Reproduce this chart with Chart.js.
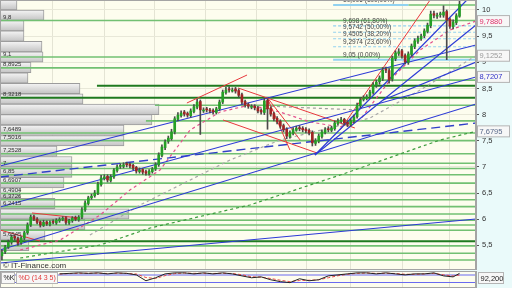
<!DOCTYPE html>
<html>
<head>
<meta charset="utf-8">
<script src="https://cdn.jsdelivr.net/npm/chart.js@4.4.1/dist/chart.umd.min.js"></script>
<style>
  html, body { margin: 0; padding: 0; background: #eaf9f9; }
  #wrap { position: relative; width: 512px; height: 288px; overflow: hidden; }
  #main { position: absolute; left: 0; top: 0; }
  #stoch { position: absolute; left: 0; top: 271px; }
</style>
</head>
<body>
<div id="wrap">
  <canvas id="main" width="512" height="270"></canvas>
  <canvas id="stoch" width="512" height="17"></canvas>
</div>
<script>
// candles, one per session (x = candle index)
const opens = [
  5.30, 5.38, 5.47, 5.56, 5.67, 5.63, 5.55, 5.64, 5.74, 5.89,
  6.05, 6.00, 5.95, 5.88, 5.95, 5.90, 5.96, 5.93, 5.97, 6.00,
  6.03, 5.93, 5.97, 6.03, 5.99, 6.04, 6.18, 6.30, 6.41, 6.45,
  6.50, 6.66, 6.78, 6.82, 6.74, 6.81, 6.93, 7.01, 7.01, 7.06,
  7.05, 7.03, 6.99, 6.91, 6.95, 6.91, 6.87, 6.91, 6.96, 7.04,
  7.22, 7.37, 7.49, 7.54, 7.67, 7.91, 7.98, 8.05, 8.02, 7.98,
  8.06, 8.14, 8.25, 8.07, 8.11, 8.08, 8.08, 8.04, 8.11, 8.24,
  8.42, 8.49, 8.45, 8.49, 8.46, 8.38, 8.25, 8.19, 8.14, 8.16,
  8.13, 8.08, 8.04, 8.27, 8.12, 8.02, 7.93, 7.87, 7.79, 7.72,
  7.58, 7.64, 7.70, 7.75, 7.74, 7.72, 7.70, 7.66, 7.45, 7.49,
  7.58, 7.66, 7.73, 7.70, 7.73, 7.83, 7.87, 7.91, 7.85, 7.81,
  7.87, 7.96, 8.17, 8.29, 8.31, 8.35, 8.42, 8.56, 8.63, 8.69,
  8.87, 8.84, 8.68, 9.07, 9.17, 9.22, 9.13, 9.00, 9.15, 9.30,
  9.40, 9.45, 9.51, 9.59, 9.70, 9.93, 9.88, 9.91, 9.90, 9.97,
  9.82, 9.68, 9.76, 9.88
];
const highs = [
  5.41, 5.50, 5.60, 5.70, 5.70, 5.66, 5.67, 5.77, 5.93, 6.08,
  6.08, 6.03, 5.97, 5.98, 5.97, 5.97, 5.99, 6.01, 6.03, 6.05,
  6.05, 6.00, 6.05, 6.06, 6.07, 6.22, 6.35, 6.44, 6.48, 6.55,
  6.71, 6.84, 6.85, 6.85, 6.85, 6.97, 7.04, 7.06, 7.08, 7.09,
  7.08, 7.05, 7.01, 6.98, 6.97, 6.94, 6.95, 6.99, 7.08, 7.27,
  7.42, 7.52, 7.59, 7.72, 7.96, 8.04, 8.07, 8.08, 8.05, 8.11,
  8.19, 8.29, 8.28, 8.13, 8.14, 8.12, 8.11, 8.14, 8.28, 8.47,
  8.52, 8.53, 8.51, 8.52, 8.49, 8.41, 8.28, 8.22, 8.19, 8.19,
  8.16, 8.11, 8.31, 8.30, 8.15, 8.05, 7.96, 7.90, 7.82, 7.75,
  7.69, 7.75, 7.78, 7.79, 7.77, 7.75, 7.73, 7.69, 7.54, 7.63,
  7.71, 7.75, 7.77, 7.78, 7.88, 7.92, 7.95, 7.93, 7.88, 7.92,
  7.99, 8.22, 8.32, 8.36, 8.38, 8.47, 8.61, 8.66, 8.74, 8.90,
  8.91, 8.88, 9.12, 9.22, 9.26, 9.25, 9.16, 9.20, 9.35, 9.45,
  9.50, 9.54, 9.64, 9.75, 9.98, 9.98, 9.94, 9.96, 10.08, 10.00,
  9.85, 9.81, 9.93, 10.19
];
const lows = [
  5.22, 5.34, 5.44, 5.52, 5.60, 5.50, 5.52, 5.61, 5.71, 5.86,
  5.97, 5.91, 5.85, 5.86, 5.88, 5.87, 5.91, 5.90, 5.94, 5.97,
  5.90, 5.90, 5.94, 5.97, 5.96, 6.01, 6.15, 6.27, 6.38, 6.42,
  6.47, 6.63, 6.75, 6.71, 6.71, 6.78, 6.90, 6.97, 6.98, 7.00,
  6.98, 6.94, 6.88, 6.88, 6.86, 6.84, 6.84, 6.88, 6.93, 7.01,
  7.19, 7.33, 7.45, 7.51, 7.63, 7.88, 7.95, 7.97, 7.95, 7.95,
  8.03, 8.11, 7.62, 8.04, 8.05, 8.03, 8.01, 8.01, 8.08, 8.21,
  8.39, 8.43, 8.43, 8.41, 8.33, 8.20, 8.14, 8.12, 8.11, 8.09,
  8.03, 8.01, 8.00, 7.72, 7.97, 7.88, 7.82, 7.74, 7.67, 7.54,
  7.55, 7.61, 7.68, 7.69, 7.67, 7.65, 7.61, 7.40, 7.41, 7.46,
  7.55, 7.63, 7.67, 7.67, 7.70, 7.80, 7.84, 7.80, 7.77, 7.78,
  7.84, 7.93, 8.13, 8.26, 8.28, 8.31, 8.39, 8.52, 8.58, 8.65,
  8.80, 8.60, 8.64, 9.03, 9.13, 9.08, 8.97, 8.96, 9.11, 9.26,
  9.36, 9.42, 9.47, 9.56, 9.66, 9.85, 9.84, 9.86, 9.86, 9.05,
  9.65, 9.64, 9.72, 9.86
];
const closes = [
  5.37, 5.47, 5.56, 5.66, 5.64, 5.54, 5.64, 5.74, 5.89, 6.04,
  6.00, 5.94, 5.89, 5.94, 5.91, 5.94, 5.94, 5.98, 6.00, 6.02,
  5.94, 5.98, 6.02, 6.00, 6.04, 6.18, 6.31, 6.41, 6.44, 6.50,
  6.67, 6.79, 6.81, 6.75, 6.81, 6.94, 7.00, 7.02, 7.04, 7.04,
  7.02, 6.98, 6.92, 6.94, 6.90, 6.88, 6.92, 6.96, 7.04, 7.23,
  7.38, 7.48, 7.55, 7.67, 7.92, 7.99, 8.03, 8.01, 7.99, 8.07,
  8.15, 8.24, 8.09, 8.09, 8.09, 8.07, 8.05, 8.11, 8.24, 8.43,
  8.47, 8.47, 8.47, 8.45, 8.37, 8.24, 8.18, 8.16, 8.15, 8.13,
  8.07, 8.05, 8.26, 8.11, 8.01, 7.92, 7.86, 7.78, 7.71, 7.59,
  7.65, 7.71, 7.74, 7.73, 7.71, 7.69, 7.65, 7.46, 7.50, 7.59,
  7.67, 7.71, 7.71, 7.74, 7.84, 7.88, 7.90, 7.84, 7.82, 7.88,
  7.95, 8.18, 8.28, 8.32, 8.34, 8.43, 8.57, 8.62, 8.70, 8.85,
  8.85, 8.66, 9.08, 9.18, 9.20, 9.12, 9.01, 9.16, 9.31, 9.41,
  9.46, 9.50, 9.60, 9.71, 9.92, 9.90, 9.90, 9.92, 9.96, 9.81,
  9.69, 9.77, 9.89, 10.11
];

// price axis
const yTicks = [5.5, 6, 6.5, 7, 7.5, 8, 8.5, 9, 9.5, 10];
const gridIdx = [15.8, 31.9, 47.8, 63.5, 79.7, 95.3, 108.8, 125.3, 140.0];

// volume by price (bin centre, volume)
const volPrice = [10.1, 9.9, 9.7, 9.5, 9.3, 9.1, 8.9, 8.7, 8.5, 8.3, 8.1, 7.9, 7.7,
                  7.5, 7.3, 7.1, 6.9, 6.7, 6.5, 6.3, 6.1, 5.9, 5.7, 5.5];
const volSize = [17, 44, 24, 24, 42, 43, 31, 28, 80, 83, 159, 152, 124,
                 124, 57, 72, 72, 64, 20, 55, 129, 85, 45, 29];

// support / resistance levels
const levelPrices = [10.096, 9.8, 9.1, 8.8925, 8.66, 8.55, 8.3218, 8.18, 7.88, 7.6489, 7.5016,
                     7.2528, 7.07, 6.97, 6.85, 6.6907, 6.4904, 6.3726, 6.2415, 6.10, 5.98, 5.89,
                     5.79, 5.58, 5.49, 5.35, 5.22];
const levelFrom = [127, -0.6, -0.6, -0.6, 105.7, 29.7, -0.6, 47.8, 45, -0.6, -0.6,
                   -0.6, -0.6, -0.6, -0.6, -0.6, -0.6, -0.6, -0.6, -0.6, -0.6, -0.6,
                   -0.6, -0.6, -0.6, -0.6, -0.6];
const darkLevels = [8.55, 8.3218, 5.58];
const levelLabels = [9.8, 9.1, 8.8925, 8.3218, 7.6489, 7.5016, 7.2528, 7, 6.85, 6.6907,
                     6.4904, 6.3726, 6.2415, 5.6545];

// fibonacci retracement
const fibLevels = [10.096, 9.698, 9.5742, 9.4505, 9.2974, 9.05];
const fibPct = [100, 61.8, 50, 38.2, 23.6, 0];
const fibFrom = 103.5;

// drawn lines as [candle index, price] points
const blueLines = [
  [[-0.6, 7.017], [148.15, 9.331]],
  [[-0.6, 6.233], [148.15, 8.719]],
  [[-0.6, 5.411], [148.15, 8.203]],
  [[-0.6, 5.163], [148.15, 6.004]],
  [[97.8, 7.228], [145.3, 10.191]],
  [[97.8, 7.228], [148.15, 9.713]],
  [[119.1, 8.279], [148.15, 9.006]]
];
const blueDashed = [[-0.6, 6.807], [148.15, 7.839]];
const redLines = [
  [[57.8, 8.222], [76.6, 8.757]],
  [[73.8, 8.509], [110.3, 7.744]],
  [[69.1, 7.897], [98.5, 7.266]],
  [[82.8, 8.337], [90.0, 7.323]],
  [[82.8, 8.337], [93.2, 7.514]],
  [[105.7, 7.706], [133.8, 10.191]],
  [[9.4, 6.119], [24.4, 6.023]],
  [[-0.6, 5.793], [11.9, 5.583]]
];
const pinkAvg = [[5.7, 5.411], [18.2, 5.602], [30.7, 6.080], [40.0, 6.558], [49.4, 6.941],
                 [58.8, 7.706], [68.2, 8.050], [77.5, 8.184], [86.9, 8.050], [96.3, 7.859],
                 [105.7, 7.763], [111.9, 7.897], [121.3, 8.662], [130.7, 9.235], [140.0, 9.618],
                 [148.15, 9.788]];
const greyAvg = [[27.5, 5.698], [43.2, 6.272], [55.7, 6.654], [71.3, 7.132], [86.9, 7.514],
                 [102.5, 7.744], [115.0, 7.935], [130.7, 8.470], [148.15, 9.1252]];
const greyShort = [[82.2, 8.164], [111.9, 8.088]];
const greenAvg = [[5.7, 5.258], [30.7, 5.507], [46.3, 5.832], [77.5, 6.272], [105.7, 6.845],
                  [136.9, 7.514], [148.15, 7.6795]];

// values boxed on the price axis
const axisMarks = [9.788, 9.1252, 8.7207, 7.6795];
const axisMarkColors = ['#e0306a', '#9a9a9a', '#3434c8', '#5a6a8a'];

// stochastic (14 3 5)
const stochIdx = [18, 21, 24, 27, 30, 33, 36, 39, 42, 45, 48, 51, 54, 57, 60, 63, 66, 69, 72, 75,
                  78, 81, 84, 87, 90, 93, 96, 99, 102, 105, 108, 111, 114, 117, 120, 123, 126,
                  129, 132, 135, 138, 141, 143];
const stochK = [89, 93, 97, 93, 97, 89, 97, 93, 81, 34, 58, 89, 97, 97, 89, 97, 89, 97, 89, 73,
                58, 65, 42, 27, 19, 50, 34, 42, 73, 81, 89, 97, 97, 89, 97, 89, 81,
                89, 89, 97, 73, 65, 93];
const stochD = [88, 91, 94, 94, 95, 92, 94, 93, 88, 60, 52, 75, 91, 96, 93, 94, 92, 94, 92, 82,
                66, 63, 52, 38, 27, 36, 38, 42, 58, 74, 86, 93, 96, 93, 94, 92, 86,
                86, 89, 93, 82, 72, 80];
const stochBands = [80, 20];
const stochLast = 92.2;

const X_MIN = -0.6, X_MAX = 148.15;
const FONT = '"Liberation Sans", Arial, sans-serif';
const comma = v => String(v).replace('.', ',');
const pts = arr => arr.map(([x, y]) => ({ x, y }));

function lineSet(points, color, width, dash, order) {
  return {
    type: 'line', data: pts(points), borderColor: color, borderWidth: width,
    borderDash: dash || [], pointRadius: 0, tension: 0, fill: false, order: order
  };
}

const datasets = [];

// volume profile, horizontal bars on their own axis
datasets.push({
  type: 'bar', indexAxis: 'y', xAxisID: 'xv', yAxisID: 'y', order: 100, grouped: false,
  data: volPrice.map((p, i) => ({ x: volSize[i], y: p })),
  barThickness: 10.4, borderWidth: 1, borderColor: '#9c9c9c', borderSkipped: false,
  backgroundColor: c => {
    const ch = c.chart;
    const py = ch.scales.y && c.raw ? ch.scales.y.getPixelForValue(c.raw.y) : NaN;
    if (!isFinite(py)) return '#d8d8d8';
    const g = ch.ctx.createLinearGradient(0, py - 5, 0, py + 5);
    g.addColorStop(0, '#f4f4f4');
    g.addColorStop(1, '#c4c4c4');
    return g;
  }
});

levelPrices.forEach((p, i) => {
  const dark = darkLevels.includes(p);
  datasets.push(lineSet([[levelFrom[i], p], [X_MAX, p]], dark ? '#1f7a1f' : '#72c072', dark ? 2 : 1.6, null, 90));
});

fibLevels.forEach((p, i) => {
  const solid = i === 0 || i === fibLevels.length - 1;
  const to = i === 0 ? 127 : X_MAX;
  datasets.push(lineSet([[fibFrom, p], [to, p]], '#92d2f0', solid ? 2 : 1.2, solid ? null : [3, 2], 85));
});

datasets.push(lineSet(greenAvg, '#3c9c3c', 1.2, [3, 3], 80));
datasets.push(lineSet(greyAvg, '#a8a8a8', 1.2, [3, 3], 80));
datasets.push(lineSet(greyShort, '#a0a0a0', 1.2, [3, 3], 80));
datasets.push(lineSet(pinkAvg, '#e2508c', 1.2, [3, 3], 80));
datasets.push(lineSet(blueDashed, '#3040c8', 1.4, [9, 5], 75));
blueLines.forEach(l => datasets.push(lineSet(l, '#2c3ad6', 1.2, null, 70)));
redLines.forEach(l => datasets.push(lineSet(l, '#e8383d', 1, null, 70)));

// candles: wicks then bodies
datasets.push({
  type: 'bar', order: 20, grouped: false, barThickness: 1,
  data: closes.map((c, i) => ({ x: i, y: [lows[i], highs[i]] })),
  backgroundColor: '#4a4a4a'
});
datasets.push({
  type: 'bar', order: 10, grouped: false, barThickness: 2, minBarLength: 1,
  data: closes.map((c, i) => ({ x: i, y: [opens[i], c] })),
  backgroundColor: closes.map((c, i) => c >= opens[i] ? '#25a025' : '#a02424')
});

const panelBg = {
  id: 'panelBg',
  beforeDraw(chart) {
    const { ctx, chartArea: a } = chart;
    ctx.save();
    ctx.fillStyle = '#eafafa';
    ctx.fillRect(0, 0, chart.width, chart.height);
    ctx.fillStyle = '#fdfdee';
    ctx.fillRect(a.left, a.top, a.right - a.left, a.bottom - a.top);
    ctx.restore();
  },
  afterDraw(chart) {
    const { ctx, chartArea: a } = chart;
    ctx.save();
    ctx.strokeStyle = '#a4a4a4';
    ctx.lineWidth = 1;
    ctx.strokeRect(a.left + 0.5, a.top + 0.5, a.right - a.left - 1, a.bottom - a.top - 1);
    ctx.restore();
  }
};

function boxLabel(ctx, text, x, cy, w, color) {
  ctx.fillStyle = '#f7f7f7';
  ctx.fillRect(x, cy - 5.5, w, 11);
  ctx.strokeStyle = '#b4b4b4';
  ctx.strokeRect(x + 0.5, cy - 5.5, w - 1, 11);
  ctx.fillStyle = color;
  ctx.textBaseline = 'middle';
  ctx.fillText(text, x + 2.5, cy + 0.5);
}

const mainText = {
  id: 'mainText',
  afterDatasetsDraw(chart) {
    const { ctx, scales: { x, y } } = chart;
    ctx.save();
    ctx.textBaseline = 'alphabetic';
    ctx.font = '6px ' + FONT;
    ctx.fillStyle = '#333';
    levelLabels.forEach(v => ctx.fillText(comma(v), 3, y.getPixelForValue(v) - 1.5));
    ctx.font = '6.5px ' + FONT;
    ctx.fillStyle = '#454545';
    const fx = x.getPixelForValue(106.6);
    fibLevels.forEach((v, i) => {
      ctx.fillText(comma(v) + ' (' + comma(fibPct[i].toFixed(2)) + '%)', fx, y.getPixelForValue(v) - 3);
    });
    ctx.font = '8px ' + FONT;
    ctx.fillStyle = '#333';
    ctx.fillText('\u00a9 IT-Finance.com', 3, chart.chartArea.bottom - 2);
    ctx.restore();
  },
  afterDraw(chart) {
    const { ctx, scales: { y } } = chart;
    ctx.save();
    ctx.font = '7.5px ' + FONT;
    axisMarks.forEach((v, i) => boxLabel(ctx, v.toFixed(4).replace('.', ','), 477, y.getPixelForValue(v), 33, axisMarkColors[i]));
    ctx.restore();
  }
};

const noPad = s => { s.paddingTop = 0; s.paddingBottom = 0; s.paddingLeft = 0; s.paddingRight = 0; };

new Chart(document.getElementById('main'), {
  type: 'bar',
  data: { datasets },
  options: {
    responsive: false,
    animation: false,
    layout: { padding: 0 },
    plugins: { legend: { display: false }, tooltip: { enabled: false } },
    scales: {
      x: {
        type: 'linear', min: X_MIN, max: X_MAX, offset: false,
        grid: { color: '#e4e4d4', offset: false, drawTicks: false },
        border: { display: false },
        ticks: { display: false },
        afterBuildTicks: s => { s.ticks = gridIdx.map(v => ({ value: v })); },
        afterFit: s => { s.height = 0; noPad(s); }
      },
      xv: { type: 'linear', min: 0, max: 476, offset: false, display: false },
      y: {
        type: 'linear', position: 'right', min: 5.029, max: 10.191, offset: false,
        grid: { color: '#e8e8d8', tickColor: '#555', tickLength: 3, offset: false },
        border: { color: '#a4a4a4' },
        ticks: {
          color: '#333', padding: 3, font: { family: FONT, size: 7.5 },
          callback: v => comma(v)
        },
        afterBuildTicks: s => { s.ticks = yTicks.map(v => ({ value: v })); },
        afterFit: s => { s.width = 36; noPad(s); }
      }
    }
  },
  plugins: [panelBg, mainText]
});

// stochastic panel
const stochText = {
  id: 'stochText',
  afterDraw(chart) {
    const ctx = chart.ctx;
    ctx.save();
    ctx.font = '7px ' + FONT;
    boxLabel(ctx, '%K', 1, 7, 14, '#222');
    boxLabel(ctx, '%D (14 3 5)', 16, 7, 42, '#e03a3a');
    ctx.font = '7.5px ' + FONT;
    boxLabel(ctx, comma(stochLast.toFixed(3)), 478, 7, 26, '#222');
    ctx.restore();
  }
};

new Chart(document.getElementById('stoch'), {
  type: 'line',
  data: {
    datasets: [
      lineSet(stochIdx.map((x, i) => [x, stochK[i]]), '#222', 1, null, 1),
      lineSet(stochIdx.map((x, i) => [x, stochD[i]]), '#e84a4a', 1, [3, 2], 2),
      ...stochBands.map(b => lineSet([[X_MIN, b], [X_MAX, b]], '#6a6af0', 1.2, null, 3))
    ]
  },
  options: {
    responsive: false,
    animation: false,
    layout: { padding: 0 },
    plugins: { legend: { display: false }, tooltip: { enabled: false } },
    scales: {
      x: {
        type: 'linear', min: X_MIN, max: X_MAX,
        grid: { color: '#e4e4d4', drawTicks: false },
        border: { display: false },
        ticks: { display: false },
        afterBuildTicks: s => { s.ticks = gridIdx.map(v => ({ value: v })); },
        afterFit: s => { s.height = 0; noPad(s); }
      },
      y: {
        type: 'linear', position: 'right', min: -24, max: 112,
        grid: { display: false },
        border: { color: '#a4a4a4' },
        ticks: { display: false },
        afterFit: s => { s.width = 36; noPad(s); }
      }
    }
  },
  plugins: [panelBg, stochText]
});
</script>
</body>
</html>
